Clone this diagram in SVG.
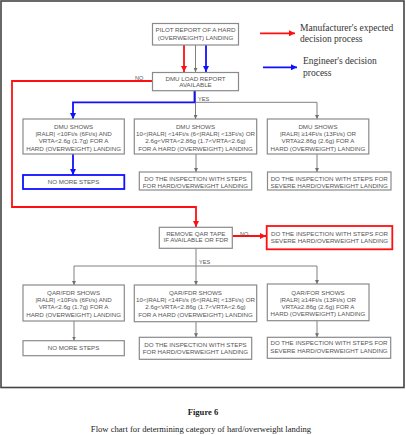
<svg xmlns="http://www.w3.org/2000/svg" width="406" height="435" viewBox="0 0 406 435">
<defs>
<style>
.box{fill:#fff;stroke:#8a8a8a;stroke-width:1.2}
.rbox{fill:#fff;stroke:#ff1010;stroke-width:1.8}
.bbox{fill:#fff;stroke:#1010ff;stroke-width:1.8}
.t{font-family:"Liberation Sans",Arial,sans-serif;font-size:6.2px;fill:#555;text-anchor:middle}
.l{font-family:"Liberation Sans",Arial,sans-serif;font-size:5.6px;fill:#555}
.g{fill:none;stroke:#808080;stroke-width:1}
.r{fill:none;stroke:#ff1010;stroke-width:1.8}
.b{fill:none;stroke:#1010ff;stroke-width:1.8}
.leg{font-family:"Liberation Serif","Times New Roman",serif;font-size:9.5px;fill:#333}
.cap{font-family:"Liberation Serif","Times New Roman",serif;font-size:8.6px;fill:#222;text-anchor:middle}
</style>
<marker id="ag" viewBox="0 0 6 6" refX="6" refY="3" markerWidth="4" markerHeight="4" markerUnits="userSpaceOnUse" orient="auto"><path d="M0,0 L6,3 L0,6 z" fill="#707070"/></marker>
<marker id="ar" viewBox="0 0 6 6" refX="6" refY="3" markerWidth="6" markerHeight="6" markerUnits="userSpaceOnUse" orient="auto"><path d="M0,0 L6,3 L0,6 z" fill="#ff1010"/></marker>
<marker id="ab" viewBox="0 0 6 6" refX="6" refY="3" markerWidth="6" markerHeight="6" markerUnits="userSpaceOnUse" orient="auto"><path d="M0,0 L6,3 L0,6 z" fill="#1010ff"/></marker>
</defs>
<rect x="0" y="0" width="406" height="435" fill="#fff"/>
<rect x="1" y="1" width="403" height="386.5" fill="none" stroke="#444" stroke-width="1.6"/>

<g id="connectors">
<path class="g" d="M195.5,45 V72" marker-end="url(#ag)"/>
<path class="r" d="M184,45 V72" marker-end="url(#ar)"/>
<path class="b" d="M206,45 V72" marker-end="url(#ab)"/>
<path class="r" d="M152.5,81 H12 V207 H196 V227" marker-end="url(#ar)"/>
<path class="g" d="M195.5,90.7 V102.3 H317 V119" marker-end="url(#ag)"/>
<path class="g" d="M195.5,102.3 V119" marker-end="url(#ag)"/>
<path class="b" d="M194.5,90.7 V102.3 H73 V119" marker-end="url(#ab)"/>
<path class="b" d="M73,154 V175" marker-end="url(#ab)"/>
<path class="g" d="M196,154 V172" marker-end="url(#ag)"/>
<path class="g" d="M317,154 V172" marker-end="url(#ag)"/>
<path class="r" d="M232.3,236 H266" marker-end="url(#ar)"/>
<path class="g" d="M196,248.3 V266 M74,266 H317"/>
<path class="g" d="M74,266 V285" marker-end="url(#ag)"/>
<path class="g" d="M196,266 V285" marker-end="url(#ag)"/>
<path class="g" d="M317,266 V284" marker-end="url(#ag)"/>
<path class="g" d="M74,321 V340.5" marker-end="url(#ag)"/>
<path class="g" d="M196,321.7 V337.3" marker-end="url(#ag)"/>
<path class="g" d="M317,320.7 V337.3" marker-end="url(#ag)"/>
<text class="l" x="135" y="80.3">NO</text>
<text class="l" x="198" y="101">YES</text>
<text class="l" x="240" y="236">NO</text>
<text class="l" x="199" y="264">YES</text>
</g>

<g id="legend">
<path class="r" d="M260,33.3 H295" marker-end="url(#ar)"/>
<text class="leg" x="300" y="31">Manufacturer's expected</text>
<text class="leg" x="300" y="42">decision process</text>
<path class="b" d="M263,67.3 H297" marker-end="url(#ab)"/>
<text class="leg" x="303" y="64">Engineer's decision</text>
<text class="leg" x="303" y="76">process</text>
</g>

<g id="pilot">
<rect class="box" x="152.5" y="23.5" width="86" height="21.5"/>
<text class="t" x="195.5" y="32.2">PILOT REPORT OF A HARD</text>
<text class="t" x="195.5" y="39.6">(OVERWEIGHT) LANDING</text>
</g>
<g id="dmuload">
<rect class="box" x="152.5" y="72.5" width="86" height="18.2"/>
<text class="t" x="195.5" y="80.5">DMU LOAD REPORT</text>
<text class="t" x="195.5" y="87.3">AVAILABLE</text>
</g>

<g id="dmu1">
<rect class="box" x="23" y="119" width="101.3" height="35"/>
<text class="t" x="73.6" y="129">DMU SHOWS</text>
<text class="t" x="73.6" y="136.2">|RALR| &lt;10Ft/s (6Ft/s) AND</text>
<text class="t" x="73.6" y="143.4">VRTA&lt;2.6g (1.7g) FOR A</text>
<text class="t" x="73.6" y="150.6">HARD (OVERWEIGHT) LANDING</text>
</g>
<g id="dmu2">
<rect class="box" x="134.3" y="119" width="122.4" height="35"/>
<text class="t" x="195.5" y="129">DMU SHOWS</text>
<text class="t" x="195.5" y="136.2">10&lt;|RALR| &lt;14Ft/s (6&lt;|RALR| &lt;13Ft/s) OR</text>
<text class="t" x="195.5" y="143.4">2.6g&lt;VRTA&lt;2.86g (1.7&lt;VRTA&lt;2.6g)</text>
<text class="t" x="195.5" y="150.6">FOR A HARD (OVERWEIGHT) LANDING</text>
</g>
<g id="dmu3">
<rect class="box" x="267.3" y="119" width="101.5" height="35"/>
<text class="t" x="318" y="129">DMU SHOWS</text>
<text class="t" x="318" y="136.2">|RALR| ≥14Ft/s (13Ft/s) OR</text>
<text class="t" x="318" y="143.4">VRTA≥2.86g (2.6g) FOR A</text>
<text class="t" x="318" y="150.6">HARD (OVERWEIGHT) LANDING</text>
</g>

<g id="nomore1">
<rect class="bbox" x="23" y="175" width="101.3" height="14"/>
<text class="t" x="73.6" y="184.2">NO MORE STEPS</text>
</g>
<g id="insp1">
<rect class="box" x="139.3" y="172" width="112.4" height="18"/>
<text class="t" x="195.5" y="181.3">DO THE INSPECTION WITH STEPS</text>
<text class="t" x="195.5" y="187.9">FOR HARD/OVERWEIGHT LANDING</text>
</g>
<g id="severe1">
<rect class="box" x="267.5" y="172" width="123.5" height="18"/>
<text class="t" x="329.2" y="181.3">DO THE INSPECTION WITH STEPS FOR</text>
<text class="t" x="329.2" y="187.9">SEVERE HARD/OVERWEIGHT LANDING</text>
</g>

<g id="removeqar">
<rect class="box" x="159.3" y="227.3" width="73" height="21"/>
<text class="t" x="195.8" y="235.5">REMOVE QAR TAPE</text>
<text class="t" x="195.8" y="242.4">IF AVAILABLE OR FDR</text>
</g>
<g id="severe-red">
<rect class="rbox" x="266.7" y="226" width="125.6" height="23.3"/>
<text class="t" x="329.5" y="235.5">DO THE INSPECTION WITH STEPS FOR</text>
<text class="t" x="329.5" y="242.9">SEVERE HARD/OVERWEIGHT LANDING</text>
</g>

<g id="qar1">
<rect class="box" x="23" y="285" width="101.3" height="36"/>
<text class="t" x="73.6" y="295">QAR/FDR SHOWS</text>
<text class="t" x="73.6" y="302.2">|RALR| &lt;10Ft/s (6Ft/s) AND</text>
<text class="t" x="73.6" y="309.4">VRTA&lt;2.6g (1.7g) FOR A</text>
<text class="t" x="73.6" y="316.6">HARD (OVERWEIGHT) LANDING</text>
</g>
<g id="qar2">
<rect class="box" x="134.3" y="285" width="122.4" height="36.7"/>
<text class="t" x="195.5" y="295">QAR/FDR SHOWS</text>
<text class="t" x="195.5" y="302.2">10&lt;|RALR| &lt;14Ft/s (6&lt;|RALR| &lt;13Ft/s) OR</text>
<text class="t" x="195.5" y="309.4">2.6g&lt;VRTA&lt;2.86g (1.7&lt;VRTA&lt;2.6g)</text>
<text class="t" x="195.5" y="316.6">FOR A HARD (OVERWEIGHT) LANDING</text>
</g>
<g id="qar3">
<rect class="box" x="267.3" y="284" width="101.7" height="36.7"/>
<text class="t" x="318" y="294.5">QAR/FOR SHOWS</text>
<text class="t" x="318" y="301.7">|RALR| ≥14Ft/s (13Ft/s) OR</text>
<text class="t" x="318" y="308.9">VRTA≥2.86g (2.6g) FOR A</text>
<text class="t" x="318" y="316.1">HARD (OVERWEIGHT) LANDING</text>
</g>

<g id="nomore2">
<rect class="box" x="23" y="340.7" width="101.3" height="15"/>
<text class="t" x="73.6" y="350.3">NO MORE STEPS</text>
</g>
<g id="insp2">
<rect class="box" x="139.3" y="337.3" width="112.4" height="22"/>
<text class="t" x="195.5" y="346.5">DO THE INSPECTION WITH STEPS</text>
<text class="t" x="195.5" y="353.5">FOR HARD/OVERWEIGHT LANDING</text>
</g>
<g id="severe2">
<rect class="box" x="267.3" y="337.3" width="123.4" height="21"/>
<text class="t" x="329" y="345">DO THE INSPECTION WITH STEPS FOR</text>
<text class="t" x="329" y="352.9">SEVERE HARD/OVERWEIGHT LANDING</text>
</g>

<g id="caption">
<text class="cap" x="203" y="415" font-weight="bold">Figure 6</text>
<text class="cap" x="201" y="431.5">Flow chart for determining category of hard/overweight landing</text>
</g>
</svg>
